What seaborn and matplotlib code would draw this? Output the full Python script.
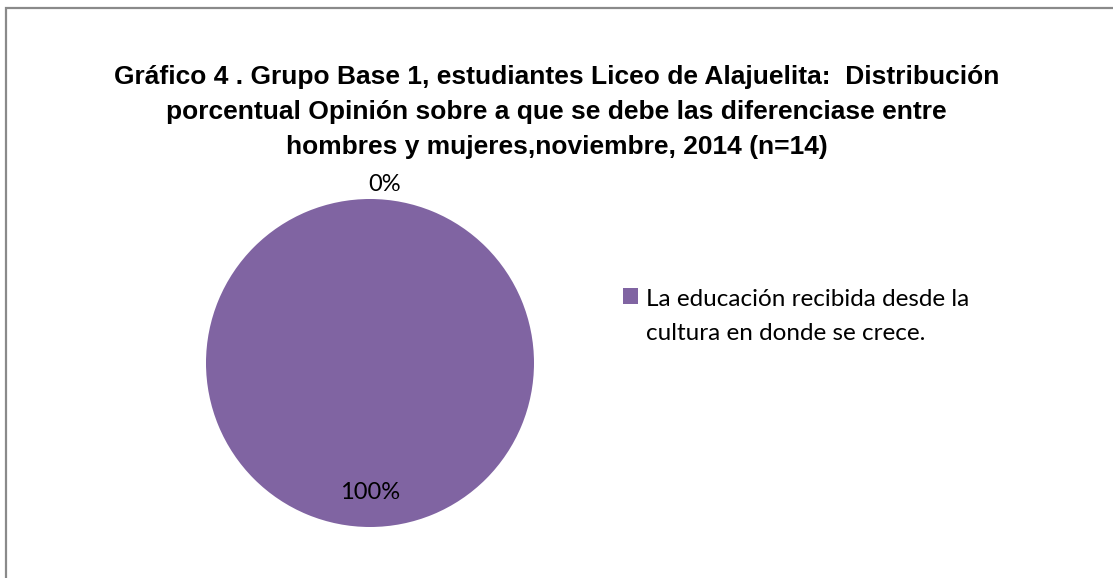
import matplotlib
matplotlib.use("Agg")
import matplotlib.pyplot as plt
import seaborn as sns
from matplotlib.patches import Rectangle
from matplotlib.legend_handler import HandlerPatch
import numpy as np

categories = ["La educación recibida desde la\ncultura en donde se crece.", "Otro"]
values = [100, 0]
colors = ["#8064A2", "#4F81BD"]
title = ("Gráfico 4 . Grupo Base 1, estudiantes Liceo de Alajuelita:  Distribución\n"
         "porcentual Opinión sobre a que se debe las diferenciase entre\n"
         "hombres y mujeres,noviembre, 2014 (n=14)")

sns.set_theme(style="white")
plt.rcParams['font.family'] = ['Lato', 'DejaVu Sans']
plt.rcParams['text.color'] = 'black'

W, H = 1113, 578
fig = plt.figure(figsize=(W / 100, H / 100), dpi=100)
fig.patch.set_facecolor("white")

# chart border (extends past right/bottom edge)
fig.add_artist(Rectangle((5.5 / W, -0.1), 1.2, 1.1 - 8.5 / H, transform=fig.transFigure,
                         fill=False, edgecolor="#8a8a8a", linewidth=1.6))

cx, cy, r = 370, 363, 164
ax = fig.add_axes([(cx - r) / W, (H - cy - r) / H, 2 * r / W, 2 * r / H])
wedges, _ = ax.pie(values, colors=colors, startangle=90, counterclock=False,
                   wedgeprops=dict(linewidth=0), radius=1.0)
ax.set_xlim(-1, 1)
ax.set_ylim(-1, 1)
ax.set_aspect("equal")
ax.axis("off")

# percentage labels
for w, v in zip(wedges, values):
    mid = np.deg2rad((w.theta1 + w.theta2) / 2)
    dist = 0.79 if v > 0 else 1.09
    ax.text(dist * np.cos(mid) + (0.09 if v == 0 else 0), dist * np.sin(mid), f"{v:.0f}%",
            ha="center", va="center", fontsize=17, color="black")

fig.text(0.5, 1 - 112 / H, title, ha="center", va="center", fontsize=19,
         fontweight="bold", family=["Liberation Sans", "DejaVu Sans"],
         linespacing=1.56, color="black")


def top_square(legend, orig_handle, xdescent, ydescent, width, height, fontsize):
    return Rectangle((-xdescent, -ydescent + 0.85 * fontsize), width, height)


leg = fig.legend([wedges[0]], [categories[0]], loc="upper left",
                 bbox_to_anchor=(623 / W, 1 - 289 / H), frameon=False,
                 fontsize=17.5, handlelength=0.6, handleheight=0.6, handletextpad=0.35,
                 borderaxespad=0, borderpad=0, labelcolor="black",
                 handler_map={wedges[0]: HandlerPatch(patch_func=top_square)})
for t in leg.get_texts():
    t.set_linespacing(1.78)

fig.savefig("out.png", dpi=100, facecolor="white")
